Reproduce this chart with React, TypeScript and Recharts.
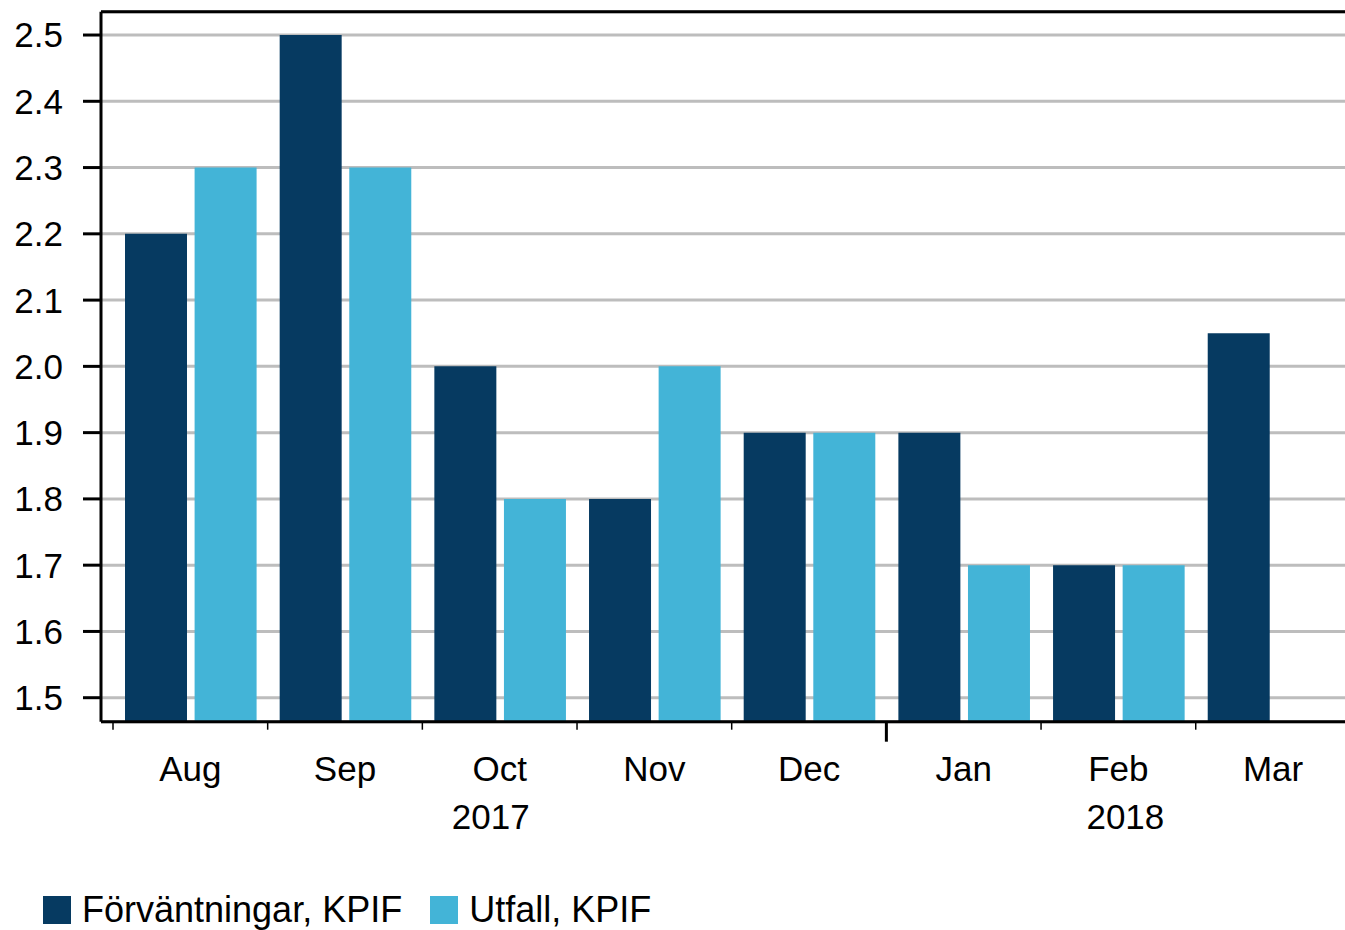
import React from 'react';
import { BarChart, Bar, XAxis, YAxis, CartesianGrid, Legend, ReferenceLine } from 'recharts';

const MONTHS = ['Aug', 'Sep', 'Oct', 'Nov', 'Dec', 'Jan', 'Feb', 'Mar'];
const EXPECTATIONS = [2.2, 2.5, 2.0, 1.8, 1.9, 1.9, 1.7, 2.05];
const OUTCOMES: (number | null)[] = [2.3, 2.3, 1.8, 2.0, 1.9, 1.7, 1.7, null];
const Y_TICKS = [1.5, 1.6, 1.7, 1.8, 1.9, 2.0, 2.1, 2.2, 2.3, 2.4, 2.5];
const Y_DOMAIN: [number, number] = [1.4638, 2.5352];
const YEAR_LABELS = [
  { month: 'Oct', label: '2017', dx: -9 },
  { month: 'Feb', label: '2018', dx: 7 },
];
const YEAR_START = 'Jan';

const SERIES_NAMES = ['Förväntningar, KPIF', 'Utfall, KPIF'];
const COLORS = ['#063a61', '#43b4d7'];

const data = MONTHS.map((m, i) => ({
  month: m,
  expectations: EXPECTATIONS[i],
  outcomes: OUTCOMES[i],
}));

const FONT = '"Liberation Sans", Arial, sans-serif';
const TICK_FONT = 35;
const LEGEND_FONT = 36;
const CHART_W = 1352;
const CHART_H = 930;
const Y_AXIS_W = 101;
const PAD_L = 12;
const PAD_R = 1.6;
const BAND = (CHART_W - Y_AXIS_W - PAD_L - PAD_R) / MONTHS.length;

const MonthTick = (props: any) => {
  const { x, y, payload } = props;
  const left = x - BAND / 2;
  const isYearStart = payload.value === YEAR_START;
  const year = YEAR_LABELS.find((yl) => yl.month === payload.value);
  return (
    <g>
      <line
        x1={left}
        x2={left}
        y1={y}
        y2={y + (isYearStart ? 20 : 8)}
        stroke="#000"
        strokeWidth={isYearStart ? 3 : 1.5}
      />
      <text x={x} y={y + 59} textAnchor="middle" fontSize={TICK_FONT} fill="#000" fontFamily={FONT}>
        {payload.value}
      </text>
      {year && (
        <text x={x + year.dx} y={y + 107} textAnchor="middle" fontSize={TICK_FONT} fill="#000" fontFamily={FONT}>
          {year.label}
        </text>
      )}
    </g>
  );
};

const LegendContent = () => (
  <div
    style={{
      display: 'flex',
      alignItems: 'center',
      height: 40,
      paddingLeft: 43,
      fontFamily: FONT,
      fontSize: LEGEND_FONT,
      color: '#000',
      whiteSpace: 'nowrap',
    }}
  >
    {SERIES_NAMES.map((name, i) => (
      <div key={name} style={{ display: 'flex', alignItems: 'center', marginRight: 28 }}>
        <span style={{ display: 'inline-block', width: 28, height: 28, background: COLORS[i], marginRight: 11 }} />
        <span>{name}</span>
      </div>
    ))}
  </div>
);

export default function App() {
  return (
    <div
      style={{
        position: 'absolute',
        left: 0,
        top: 0,
        width: 1345,
        height: 930,
        overflow: 'hidden',
        background: '#fff',
        fontFamily: FONT,
      }}
    >
      <BarChart
        width={CHART_W}
        height={CHART_H}
        data={data}
        margin={{ top: 11.7, right: 0, left: 0, bottom: 0 }}
        barCategoryGap={12}
        barGap={7.6}
      >
        <CartesianGrid vertical={false} stroke="#bdbdbd" strokeWidth={3} />
        <XAxis
          dataKey="month"
          interval={0}
          padding={{ left: PAD_L, right: PAD_R }}
          tickLine={false}
          tickSize={0}
          tickMargin={0}
          axisLine={{ stroke: '#000', strokeWidth: 3 }}
          height={168.3}
          tick={<MonthTick />}
        />
        <YAxis
          width={Y_AXIS_W}
          domain={Y_DOMAIN}
          allowDataOverflow
          ticks={Y_TICKS}
          interval={0}
          tickFormatter={(v: number) => v.toFixed(1)}
          tick={{ fill: '#000', fontSize: TICK_FONT, fontFamily: FONT }}
          tickSize={18}
          tickMargin={20}
          tickLine={{ stroke: '#000', strokeWidth: 3 }}
          axisLine={{ stroke: '#000', strokeWidth: 3 }}
        />
        <ReferenceLine y={Y_DOMAIN[1]} stroke="#000" strokeWidth={3} />
        <Legend verticalAlign="bottom" align="left" content={<LegendContent />} />
        <Bar dataKey="expectations" name={SERIES_NAMES[0]} fill={COLORS[0]} isAnimationActive={false} />
        <Bar dataKey="outcomes" name={SERIES_NAMES[1]} fill={COLORS[1]} isAnimationActive={false} />
      </BarChart>
    </div>
  );
}
